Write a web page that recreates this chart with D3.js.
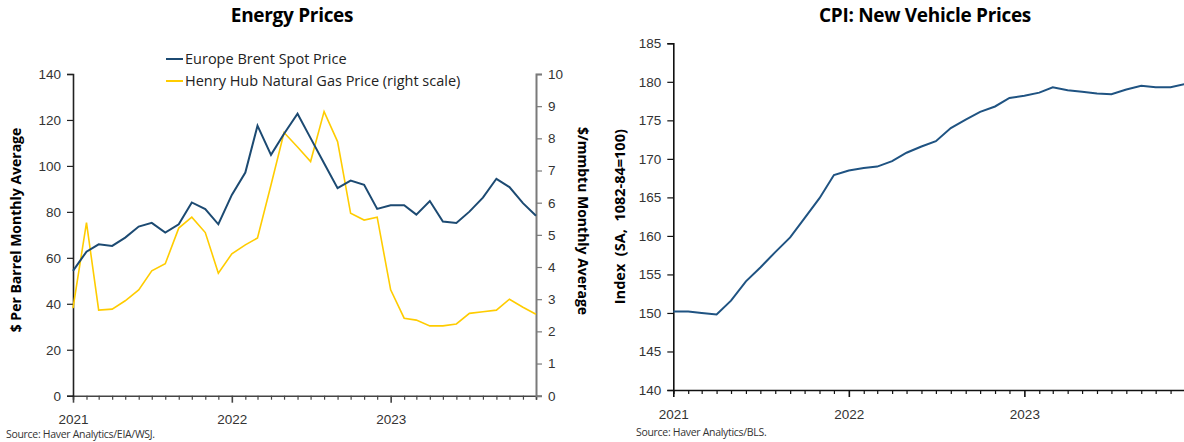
<!DOCTYPE html>
<html>
<head>
<meta charset="utf-8">
<script src="https://cdn.jsdelivr.net/npm/d3@7"></script>
<style>
  html, body { margin: 0; padding: 0; background: #fff; }
  svg { display: block; font-family: "Open Sans", "Noto Sans", sans-serif; }
  .tick text { fill: #333; }
</style>
</head>
<body>
<svg id="chart" width="1184" height="442"></svg>
<script>
// Monthly observations, Jan 2021 – Dec 2023
const months = [
  "2021-01","2021-02","2021-03","2021-04","2021-05","2021-06","2021-07","2021-08","2021-09","2021-10","2021-11","2021-12",
  "2022-01","2022-02","2022-03","2022-04","2022-05","2022-06","2022-07","2022-08","2022-09","2022-10","2022-11","2022-12",
  "2023-01","2023-02","2023-03","2023-04","2023-05","2023-06","2023-07","2023-08","2023-09","2023-10","2023-11","2023-12"
];

// Europe Brent spot, $ per barrel (monthly average)
const brent = [54.3,62.7,65.9,65.2,68.8,73.6,75.2,71.0,74.6,84.1,81.2,74.6,
               87.4,97.1,117.5,104.8,114.0,122.7,112.1,101.2,90.3,93.6,91.8,81.3,
               82.9,82.9,78.8,84.7,75.8,75.2,80.1,86.2,94.4,90.8,83.8,78.3];

// Henry Hub natural gas, $/mmbtu (monthly average)
const henryHub = [2.72,5.38,2.66,2.69,2.95,3.29,3.88,4.10,5.21,5.55,5.07,3.81,
                  4.41,4.69,4.90,6.55,8.18,7.73,7.28,8.83,7.90,5.67,5.46,5.55,
                  3.29,2.41,2.35,2.17,2.17,2.23,2.56,2.61,2.66,3.00,2.75,2.53];

// CPI: new vehicles, index SA
const cpiNewVehicles = [150.2,150.2,150.0,149.8,151.6,154.1,155.9,157.9,159.8,162.3,164.9,167.9,
                        168.5,168.8,169.0,169.7,170.8,171.6,172.3,174.0,175.1,176.1,176.8,177.9,
                        178.2,178.6,179.3,178.9,178.7,178.5,178.4,179.0,179.5,179.3,179.3,179.7];

const brentTicks = [0,20,40,60,80,100,120,140];
const gasTicks = [0,1,2,3,4,5,6,7,8,9,10];
const cpiTicks = [140,145,150,155,160,165,170,175,180,185];

const parseMonth = d3.timeParse("%Y-%m");
const dates = months.map(parseMonth);

const BLUE = "#1c4a72";
const YELLOW = "#ffcc00";
const CPI_BLUE = "#1f5382";

const svg = d3.select("#chart");

// Month axis: every month gets a small tick, January gets a longer one and a year label
function monthAxis(g, x, axisColor) {
  const axis = d3.axisBottom(x)
    .tickValues(dates)
    .tickSize(4)
    .tickPadding(15)
    .tickFormat(d => d.getMonth() === 0 ? d3.timeFormat("%Y")(d) : "");
  g.call(axis);
  g.select(".domain").attr("stroke", axisColor).attr("stroke-width", 1.6);
  g.selectAll(".tick line").attr("stroke", axisColor).attr("stroke-width", 1.2)
    .filter(d => d.getMonth() === 0).attr("y2", 7).attr("stroke-width", 1.6);
  g.selectAll(".tick text").attr("font-size", 13.5);
}

// ---------- Energy Prices ----------
{
  const left = 73, right = 536, top = 74, bottom = 395.7;
  const x = d3.scaleTime().domain([dates[0], dates[dates.length - 1]]).range([left, right]);
  const yL = d3.scaleLinear().domain([0, 140]).range([bottom, top]);
  const yR = d3.scaleLinear().domain([0, 10]).range([bottom, top]);

  svg.append("text").attr("x", 292).attr("y", 22).attr("text-anchor", "middle")
    .attr("font-size", 19).attr("font-weight", 700).attr("fill", "#000")
    .attr("letter-spacing", -0.3)
    .text("Energy Prices");

  const gx = svg.append("g").attr("transform", `translate(0,${bottom})`);
  monthAxis(gx, x, "#444");

  const gyL = svg.append("g").attr("transform", `translate(${left},0)`)
    .call(d3.axisLeft(yL).tickValues(brentTicks).tickSize(6).tickPadding(6));
  gyL.select(".domain").attr("stroke", "#222").attr("stroke-width", 1.6);
  gyL.selectAll(".tick line").attr("stroke", "#222").attr("stroke-width", 1.2);
  gyL.selectAll(".tick text").attr("font-size", 13.5);

  const gyR = svg.append("g").attr("transform", `translate(${right},0)`)
    .call(d3.axisRight(yR).tickValues(gasTicks).tickSize(6).tickPadding(6));
  gyR.select(".domain").attr("stroke", "#7a7a7a").attr("stroke-width", 2);
  gyR.selectAll(".tick line").attr("stroke", "#7a7a7a").attr("stroke-width", 1.2);
  gyR.selectAll(".tick text").attr("font-size", 13.5);

  svg.append("text")
    .attr("transform", `translate(21,230) rotate(-90)`)
    .attr("text-anchor", "middle").attr("font-size", 14).attr("font-weight", 700)
    .attr("fill", "#000").text("$ Per Barrel Monthly Average");

  svg.append("text")
    .attr("transform", `translate(578,221) rotate(90)`)
    .attr("text-anchor", "middle").attr("font-size", 14).attr("font-weight", 700)
    .attr("fill", "#000").text("$/mmbtu Monthly Average");

  const lineL = d3.line().x((d, i) => x(dates[i])).y(d => yL(d));
  const lineR = d3.line().x((d, i) => x(dates[i])).y(d => yR(d));

  svg.append("path").datum(henryHub).attr("d", lineR)
    .attr("fill", "none").attr("stroke", YELLOW).attr("stroke-width", 1.6)
    .attr("stroke-linejoin", "miter");
  svg.append("path").datum(brent).attr("d", lineL)
    .attr("fill", "none").attr("stroke", BLUE).attr("stroke-width", 2)
    .attr("stroke-linejoin", "miter");

  const legend = [
    { label: "Europe Brent Spot Price", color: BLUE, y: 59 },
    { label: "Henry Hub Natural Gas Price (right scale)", color: YELLOW, y: 81 }
  ];
  const lg = svg.append("g");
  legend.forEach(l => {
    lg.append("line").attr("x1", 166).attr("x2", 183).attr("y1", l.y).attr("y2", l.y)
      .attr("stroke", l.color).attr("stroke-width", 2);
    lg.append("text").attr("x", 185).attr("y", l.y).attr("dy", "0.35em")
      .attr("font-size", 14.5).attr("fill", "#222").text(l.label);
  });

  svg.append("text").attr("x", 6).attr("y", 438).attr("font-size", 10.5)
    .attr("fill", "#333").attr("letter-spacing", -0.3).text("Source: Haver Analytics/EIA/WSJ.");
}

// ---------- CPI: New Vehicle Prices ----------
{
  const left = 673.3, right = 1185, top = 43.3, bottom = 390;
  const x = d3.scaleTime().domain([dates[0], dates[dates.length - 1]]).range([left, right]);
  const y = d3.scaleLinear().domain([140, 185]).range([bottom, top]);

  svg.append("text").attr("x", 925).attr("y", 22).attr("text-anchor", "middle")
    .attr("font-size", 19).attr("font-weight", 700).attr("fill", "#000")
    .attr("letter-spacing", -0.3)
    .text("CPI: New Vehicle Prices");

  const gx = svg.append("g").attr("transform", `translate(0,${bottom})`);
  monthAxis(gx, x, "#111");

  const gy = svg.append("g").attr("transform", `translate(${left},0)`)
    .call(d3.axisLeft(y).tickValues(cpiTicks).tickSize(6).tickPadding(6));
  gy.select(".domain").attr("stroke", "#111").attr("stroke-width", 1.6);
  gy.selectAll(".tick line").attr("stroke", "#111").attr("stroke-width", 1.2);
  gy.selectAll(".tick text").attr("font-size", 13.5);

  svg.append("text")
    .attr("transform", `translate(625,${(top + bottom) / 2}) rotate(-90)`)
    .attr("text-anchor", "middle").attr("font-size", 14.5).attr("font-weight", 700)
    .attr("fill", "#000").style("white-space", "pre")
    .text("Index  (SA,  1082-84=100)");

  const line = d3.line().x((d, i) => x(dates[i])).y(d => y(d));
  svg.append("path").datum(cpiNewVehicles).attr("d", line)
    .attr("fill", "none").attr("stroke", CPI_BLUE).attr("stroke-width", 2);

  svg.append("text").attr("x", 636).attr("y", 436).attr("font-size", 10.5)
    .attr("fill", "#333").attr("letter-spacing", -0.3).text("Source: Haver Analytics/BLS.");
}
</script>
</body>
</html>
